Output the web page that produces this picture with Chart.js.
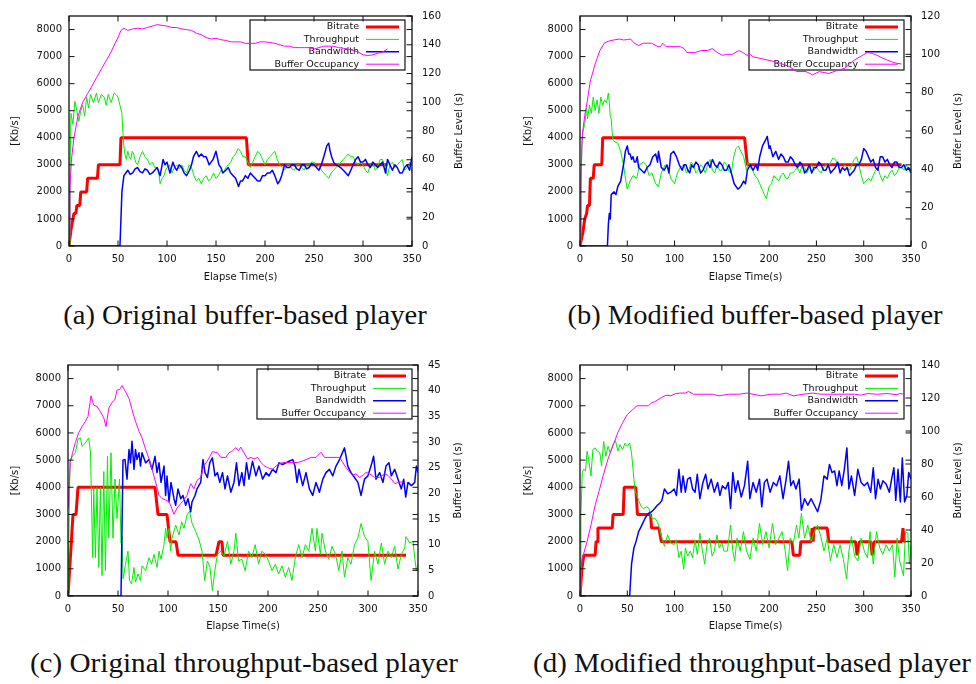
<!DOCTYPE html>
<html>
<head>
    <title>Buffer-based and throughput-based players</title>
    <script src="https://cdn.jsdelivr.net/npm/chart.js"></script>
    <style>
        body {
            margin: 0;
            background-color: #ffffff;
            width: 976px;
            height: 684px;
            position: relative;
            overflow: hidden;
        }
        .panel {
            position: absolute;
            width: 488px;
            height: 290px;
        }
        .panel canvas {
            display: block;
        }
        .caption {
            position: absolute;
            font-family: 'Liberation Serif', serif;
            font-size: 28px;
            line-height: 28px;
            white-space: nowrap;
            transform: translateX(-50%);
            transform-origin: center;
            color: #111;
        }
    </style>
</head>
<body>
    <div class="panel" style="left:0;top:0"><canvas id="chartA" width="488" height="290"></canvas></div>
    <div class="panel" style="left:488px;top:0"><canvas id="chartB" width="488" height="290"></canvas></div>
    <div class="panel" style="left:0;top:349px"><canvas id="chartC" width="488" height="290"></canvas></div>
    <div class="panel" style="left:488px;top:349px"><canvas id="chartD" width="488" height="290"></canvas></div>

    <div class="caption" data-fit="364" style="left:245px;top:301px">(a) Original buffer-based player</div>
    <div class="caption" data-fit="375" style="left:755px;top:301px">(b) Modified buffer-based player</div>
    <div class="caption" data-fit="428" style="left:244px;top:649px">(c) Original throughput-based player</div>
    <div class="caption" data-fit="438" style="left:752px;top:649px">(d) Modified throughput-based player</div>

    <script>
        // series are [time (s), value] pairs
        const seriesLabels = ['Bitrate', 'Throughput', 'Bandwidth', 'Buffer Occupancy'];
        const xTicks = [0, 50, 100, 150, 200, 250, 300, 350];
        const rateTicks = [0, 1000, 2000, 3000, 4000, 5000, 6000, 7000, 8000];
        const aBufferTicks = [0, 20, 40, 60, 80, 100, 120, 140, 160];
        const bBufferTicks = [0, 20, 40, 60, 80, 100, 120];
        const cBufferTicks = [0, 5, 10, 15, 20, 25, 30, 35, 40, 45];
        const dBufferTicks = [0, 20, 40, 60, 80, 100, 120, 140];

        // (a) original buffer-based
        const aBitrate = [[0,0],[2,600],[4,1000],[5,1200],[7,1200],[8,1500],[11,1500],[12,2000],[18,2000],[19,2500],[29,2500],[30,3000],[52,3000],[53,4000],[181,4000],[183,3000],[325,3000]];
        const aThroughput = [[0,0],[1,2600],[2,4900],[4,4500],[6,5350],[8,5000],[10,4600],[12,5000],[14,5200],[16,4800],[18,5500],[20,5100],[22,5600],[25,5300],[28,5650],[30,5300],[33,5600],[36,5500],[38,5200],[40,5600],[43,5300],[46,5650],[48,5600],[50,5500],[52,5200],[54,4900],[55,4200],[56,3700],[57,3400],[58.5,3200],[60,3500],[61.5,3300],[63,3200],[64.5,3500],[66,3400],[68,3100],[70,3000],[72.5,3300],[75,3500],[77.5,3300],[80,3200],[82.5,3000],[85,3100],[87.5,2900],[90,2900],[92,2600],[93,2300],[95,2500],[97,2600],[98.5,2800],[100,2900],[102.5,3000],[105,2700],[107.5,2900],[110,3000],[112.5,2850],[115,3000],[117.5,2800],[120,2700],[122.5,3000],[125,2900],[127.5,2600],[130,2400],[132.5,2500],[135,2300],[137.5,2500],[140,2600],[142.5,2400],[145,2500],[147.5,2700],[150,2500],[152.5,2600],[155,2800],[157.5,2700],[160,2900],[162.5,3000],[165,3100],[167.5,3300],[170,3400],[172.5,3600],[175,3500],[177.5,3300],[180,3300],[182.5,3100],[185,2900],[187.5,3100],[190,3300],[192.5,3500],[195,3400],[197.5,3200],[200,3000],[202.5,3200],[205,3300],[207.5,3400],[210,3500],[212.5,3200],[215,3000],[217.5,2900],[220,2800],[222.5,3000],[225,3000],[227.5,2850],[230,2800],[232.5,3000],[235,3000],[237.5,2900],[240,2800],[242.5,3000],[245,3000],[247.5,3100],[250,3100],[252.5,2900],[255,3000],[257.5,2800],[260,2700],[262.5,2600],[265,2500],[267.5,2700],[270,2800],[272.5,2900],[275,3000],[277.5,3100],[280,3200],[282.5,3300],[285,3400],[287.5,3300],[290,3300],[292.5,3100],[295,3000],[297.5,3100],[300,3000],[302.5,2800],[305,2700],[307.5,3000],[310,3100],[312.5,2800],[315,2900],[317.5,3200],[320,3200],[322.5,2900],[325,2600],[327.5,3000],[330,3100],[332.5,2900],[335,3000],[337.5,3100],[340,3200],[342.5,2800],[345,2900],[347.5,3100],[350,2700]];
        const aBandwidth = [[0,0],[52,0],[53,1000],[54,2000],[56,2600],[58,2700],[60,2800],[62.5,2650],[65,2700],[67.5,2850],[70,2900],[72.5,2750],[75,2700],[77.5,2850],[80,2800],[82.5,2650],[85,2700],[87.5,2800],[90,2900],[93,2600],[96,3200],[98,3000],[100,3100],[103,2700],[106,3100],[108,2900],[110,2800],[112.5,3000],[115,2900],[117.5,2700],[120,2600],[123,2800],[125,3000],[127,3300],[130,3500],[132.5,3300],[135,3400],[137.5,3300],[140,3300],[143,3000],[147,3200],[150,3500],[153,3000],[155,2900],[157,2700],[160,2800],[162.5,2900],[165,2700],[167.5,2600],[170,2500],[173,2200],[175,2400],[177,2400],[180,2600],[182.5,2500],[185,2700],[187.5,2600],[190,2500],[192.5,2400],[195,2400],[197.5,2600],[200,2600],[202.5,2700],[205,2700],[207.5,2800],[210,2600],[213,2300],[215,2400],[217,2600],[220,3000],[222.5,2900],[225,2900],[227.5,3000],[230,3000],[232.5,2850],[235,2800],[237.5,3000],[240,3000],[242.5,2850],[245,2900],[247.5,3050],[250,3000],[252.5,2900],[255,2800],[257.5,3000],[260,3300],[263,3700],[265,3800],[266.5,3500],[268,3300],[270,3100],[272,3000],[275,2950],[277,2900],[280,2800],[282.5,2700],[285,2600],[287.5,2800],[290,3000],[292.5,3200],[295,3300],[297.5,3100],[300,3100],[302.5,3200],[305,3000],[307.5,2900],[310,3100],[312.5,3000],[315,2900],[317.5,3000],[320,3100],[323,2700],[325,3200],[327.5,3000],[330,2800],[332.5,3000],[335,2900],[337.5,2700],[340,2700],[342.5,2900],[345,3000],[347.5,2800],[350,3300]];
        const aBuffer = [[0,5],[1,40],[2.5,60],[5,75],[9,90],[14,100],[19,106],[24,112],[28,117],[33,123],[38,129],[43,135],[47,141],[50,145],[53,150],[56,151.5],[60,150],[65,151],[70,151.5],[75,151],[80,152],[85,153],[90,154],[95,153.5],[100,153],[105,152],[110,152],[115,151],[120,150.5],[125,150],[130,148],[135,147],[140,145],[145,144],[150,144.5],[155,143.5],[160,143],[165,142],[170,142],[175,142],[180,141],[185,141],[190,141],[195,142],[200,142],[205,141.5],[210,141],[215,140],[220,139],[225,139],[230,138],[235,138],[240,138],[245,138],[250,137],[255,138],[260,139],[265,139],[270,139],[275,138],[280,137.5],[285,137],[290,136],[295,135],[300,133],[305,132.5],[310,133],[315,134],[320,135],[325,137]];

        // (b) modified buffer-based
        const bBitrate = [[0,0],[3,500],[5,1000],[7,1200],[8,1500],[10,1500],[11,2500],[14,2500],[15,3000],[23,3000],[24,4000],[174,4000],[177,3000],[340,3000]];
        const bThroughput = [[0,0],[1,2000],[2,3700],[3,4200],[5,4500],[7,5100],[8,4700],[10,5200],[12,4900],[14,5500],[16,5000],[18,5400],[20,4900],[22,5500],[24,5200],[26,5400],[28,5300],[30,5650],[31,5300],[32,4800],[33,4700],[34,4200],[35,3900],[37,3850],[40,3800],[43,3500],[46,3000],[48,2500],[50,2100],[53,2400],[56,2600],[60,2500],[63,3000],[67,3100],[70,3000],[73,2600],[76,2700],[80,2300],[83,2200],[86,2700],[90,3000],[93,2900],[96,2500],[100,2300],[103,2700],[106,2900],[110,3000],[112.5,2700],[115,2800],[117.5,3100],[120,3000],[122.5,2700],[125,2800],[127.5,3000],[130,2900],[132.5,2700],[135,3000],[137.5,3200],[140,2800],[142.5,2700],[145,3000],[147.5,2800],[150,2800],[152.5,3100],[155,3000],[157.5,2750],[160,2700],[162.5,3300],[165,3600],[167.5,3700],[170,3500],[173,3300],[176,2800],[178,3100],[180,2900],[182.5,2800],[185,2600],[187.5,2500],[190,2300],[192.5,2100],[195,1900],[197,1750],[200,2200],[202.5,2300],[205,2600],[207.5,2500],[210,2400],[212.5,2600],[215,2700],[217.5,2500],[220,2500],[222.5,2700],[225,2700],[227.5,2800],[230,2900],[232.5,2700],[235,3000],[237.5,2900],[240,2700],[242.5,2900],[245,3000],[247.5,2800],[250,2900],[252.5,2800],[255,2700],[257.5,2900],[260,3000],[262.5,2900],[265,3100],[267.5,3250],[270,3200],[272.5,3000],[275,2800],[277.5,2900],[280,3000],[282.5,2900],[285,2800],[287.5,3000],[290,3200],[292.5,3300],[295,3000],[297.5,2600],[300,2300],[302.5,2400],[305,2500],[307.5,2400],[310,2600],[312.5,2800],[315,2900],[317.5,2600],[320,2400],[322.5,2600],[325,2500],[327.5,2700],[330,2800],[332.5,2600],[335,2700],[337.5,2900],[340,2900],[342.5,2800],[345,3000],[347.5,2800],[350,2900]];
        const bBandwidth = [[0,0],[29,0],[30,800],[31,1200],[32,1000],[33,1900],[36,2000],[38,1900],[40,2200],[43,2400],[46,3000],[48,3500],[50,3700],[51.5,3400],[53,3400],[54.5,3200],[56,3300],[57.5,3100],[59,3100],[60.5,3300],[62,2900],[65,2800],[68,2700],[71,2900],[74,3000],[77,3300],[80,3400],[82,3100],[83,3500],[86,2900],[89,2800],[92,3000],[94,2700],[96,3400],[99,3500],[102,3300],[105,3000],[108,2800],[110,3000],[112,3000],[114,2800],[116,2700],[118,3000],[120,2900],[122.5,3100],[125,3000],[127.5,2700],[130,2800],[132.5,3000],[135,3100],[137.5,2900],[140,3200],[142.5,3000],[145,2900],[147.5,3100],[150,3000],[152.5,2800],[155,2800],[157.5,3000],[160,2700],[163,2300],[165,2200],[167,2100],[170,2200],[173,2400],[175,2300],[177,2800],[180,3000],[183,2800],[186,3000],[188,2800],[190,3300],[193,3700],[196,3900],[198,4050],[200,3600],[201,3700],[204,3300],[207,3500],[210,3200],[212.5,3400],[215,3300],[217.5,3100],[220,3100],[222.5,3300],[225,3200],[227.5,3000],[230,2900],[232.5,3100],[235,3000],[237.5,2700],[240,2800],[242.5,3000],[245,2700],[247.5,2900],[250,2900],[252.5,3100],[255,3000],[257.5,2800],[260,2800],[262.5,3000],[265,2700],[267.5,2800],[270,2900],[272.5,3100],[275,2700],[277.5,2900],[280,2800],[282.5,2900],[285,2600],[287.5,2700],[290,2800],[292.5,3000],[295,3000],[297.5,3200],[300,3600],[302.5,3500],[305,3300],[307.5,3100],[310,3200],[312.5,2900],[315,2800],[317.5,3300],[320,3300],[322.5,3100],[325,3200],[327.5,3000],[330,2900],[332.5,3100],[335,3100],[337.5,2900],[340,2900],[342.5,3000],[345,2800],[347.5,2900],[350,2700]];
        const bBuffer = [[0,0],[1,35],[2.4,58],[5,68],[7.5,75],[10.9,86],[16,95],[21,102],[26,106],[31,107],[36,107.5],[41.6,108],[46,107.5],[50,107.7],[53.5,108],[57,106],[62,104.6],[67,105.8],[75.7,105.8],[82.5,104],[85,104],[87.6,105.8],[91,104],[101,104],[106,104],[110,103],[113,101],[122,101],[128.5,102],[135,102],[140,103],[145,101],[150.5,99.5],[155,100],[161,100],[168,102],[172,101],[176.5,99.5],[180,100],[183,98.7],[191.5,97.8],[202,96.6],[212,95.3],[222,93.5],[229,91],[239,91],[246,89.3],[253,91],[258,90.5],[263,90],[273,91.8],[280,92.7],[285,95],[290,97],[297,99],[304,101],[309,100.5],[314,99.5],[320,98],[325,97],[330,96],[335,95.3],[340,95]];

        // (c) original throughput-based
        const cBitrate = [[0,0],[5,3000],[8,3000],[10,4000],[87,4000],[90,3000],[99,3000],[102,2000],[108,2000],[110,1500],[148,1500],[151,2000],[154,2000],[155,1500],[338,1500]];
        const cThroughput = [[0,0],[2,5000],[4.7,5150],[7.4,5270],[10,5780],[12.5,5820],[14,5510],[17.4,5630],[20.7,5820],[22.5,5270],[24.7,1410],[25.7,4000],[27.4,1410],[29,4000],[30.8,1050],[32.4,4000],[34,750],[35.8,4580],[37.4,930],[39.5,5150],[40.8,2130],[43,5270],[45,2130],[47,4300],[49,2850],[51.5,4300],[53,1950],[54,2190],[55,630],[57.5,1170],[60,1650],[61.5,570],[63.5,450],[66,1050],[67.5,510],[70,810],[72.5,570],[74,1110],[77.6,930],[81,1410],[83.6,1170],[86,1530],[89,1050],[91,1650],[93,1350],[96,1890],[97.6,2490],[99,2130],[101,2490],[102.6,1650],[104,2130],[107.7,2610],[111,2250],[113.7,2730],[116,2490],[119,2980],[121.7,3120],[124,2680],[127.7,2370],[131,2070],[134,1650],[136.7,570],[139.4,1290],[142,1050],[144.4,200],[146.8,930],[149.4,1530],[152.8,1650],[156,1470],[159.5,2010],[162.8,1170],[166,1650],[167.8,2310],[170.5,1290],[173.9,1350],[177.2,930],[180.5,1650],[183.9,1410],[187.2,1890],[190.6,1170],[193.9,1650],[197.3,1530],[200.6,1290],[204,930],[207.3,1170],[210.6,810],[214,1110],[217.3,690],[220.7,1050],[224,570],[227.3,1410],[230.7,1890],[234,1410],[237.4,1890],[240.7,1650],[244,2490],[247.4,1650],[248.9,2490],[252.4,1530],[254,2310],[257.4,1650],[260.8,1350],[264,1830],[267.5,1530],[270.8,930],[274,1650],[276.5,690],[279.8,1410],[283,1170],[286.5,1890],[289.9,2130],[293,2670],[296.5,2190],[299.9,2010],[303,570],[306.6,1650],[310,1170],[313.3,1950],[316.6,1170],[320,1650],[323.3,1410],[326.7,1830],[330,990],[333.3,1530],[336.7,1770],[338,2190],[341.7,1950],[345,2010],[346.7,1410],[348.4,930],[350,1170]];
        const cBandwidth = [[0,0],[53,0],[55,5000],[57,5020],[59,4300],[61,5390],[62.5,4900],[64,5690],[66,4660],[67.5,5390],[69,5020],[71,5270],[72.5,4780],[74,5270],[77.6,4900],[81,5020],[84,4660],[87,5140],[89,4540],[91,4900],[93,4180],[96,4780],[97.6,3700],[99,4420],[101,3460],[103,4180],[106,3580],[107.7,3340],[110,3940],[112.7,3580],[115,3700],[117.7,3340],[120,3580],[122.7,3100],[124,3460],[127,3700],[129,3940],[132.7,4180],[135,5020],[137,4540],[139.4,4360],[141.7,4900],[144.4,5080],[147,4420],[149.4,4540],[151.8,4180],[154.5,4540],[157,3940],[159.5,4420],[162.8,3820],[166,4180],[168.5,4900],[171,4060],[173.9,4540],[176,4060],[178.5,4900],[181,4300],[184.5,4960],[187.9,4420],[191,4780],[194.6,4300],[198,4540],[201,4420],[204.6,4660],[208,4540],[211,4900],[214.6,4840],[218,4900],[221,4960],[224.7,5020],[227,4780],[229,4180],[231,4660],[234.7,4060],[238,4540],[241.4,3940],[244.7,3700],[248,4180],[251.4,3820],[254.8,4300],[258,4540],[261.4,4660],[264.8,4420],[268,4780],[271.5,5020],[276.5,5450],[279.8,4780],[283,4540],[286.5,4360],[289.9,4180],[293,3700],[296.5,4300],[299.9,4420],[303,4780],[305.6,5140],[308,4300],[311.6,4540],[315,4180],[318,4780],[321,4900],[323.3,4420],[326.7,4660],[330,4300],[333.3,3940],[335.7,4300],[337.7,3640],[340,4180],[343.4,4060],[346.7,4180],[348.4,4780],[350,4540]];
        const cBuffer = [[0,17],[2.3,26],[4.7,28],[7.4,29.9],[10.7,31.8],[14,33],[17.4,34],[20,35],[23,39],[25.7,37.2],[29,36.9],[32.4,35.9],[35.8,34.7],[38,33],[40.8,36.6],[44,37.7],[46.8,38.2],[49,40.1],[51.5,40.2],[54,41],[57.5,39.8],[61,38.5],[64,36.3],[67.5,34],[71,32.1],[74,30.8],[77.6,28.6],[81,26.7],[84,24.7],[87.6,22.2],[91,19.6],[94,19],[97.6,18.7],[101,18.4],[103.7,17.1],[106,15.9],[109,17.1],[112.7,18],[116,18.7],[119,19.6],[122.7,21.9],[126,20.9],[129,22.5],[132.7,23.1],[136,25.4],[139.4,26.3],[144.4,28.1],[149.4,27.9],[152.8,27],[157.8,27],[161,27.9],[164.5,28.3],[167.8,28.9],[170.5,28.3],[172.8,29],[176,27.9],[179.5,26.7],[183,27],[186,26.7],[189.6,27],[193,26],[196,25.4],[199.6,25],[204.6,24.7],[209.6,25.6],[214.6,26],[224.7,26],[229.7,26],[234.7,26.3],[239.7,26.7],[243,27],[248,27],[253,28],[256.4,27],[271.5,27],[274.8,26],[278,25],[281.5,24.1],[284.8,23.5],[288,23.8],[291.5,23.1],[294.9,23.5],[298.2,24.1],[301.6,23.8],[306.6,23.1],[311.6,23.1],[316.6,23.8],[320,23.5],[323.3,22.8],[326.7,21.9],[331.7,22.2],[335,22.2]];

        // (d) modified throughput-based
        const dBitrate = [[0,0],[2,1000],[4,1500],[16,1500],[17,2000],[18.4,2000],[19,2500],[34,2500],[35,3000],[45.7,3000],[46.7,4000],[59,4000],[60.7,3000],[74.6,3000],[75.7,2500],[83.5,2500],[86,2000],[224,2000],[225.6,1500],[232.4,1500],[233.5,2000],[244.4,2000],[245.4,2500],[246.5,2000],[247.5,2500],[261.4,2500],[263,2000],[291.4,2000],[293,1500],[295.5,2000],[307.4,2000],[309,1500],[311,2000],[340,2000],[341.5,2500],[343,2000],[344,2000]];
        const dThroughput = [[0,0],[1,3000],[2.4,4540],[4,4660],[5.8,4600],[7.5,5330],[9.2,5020],[11.6,4420],[13.6,5390],[16,5450],[18.4,5330],[21,5270],[22.8,4780],[25,5690],[27.3,5140],[29.6,5510],[32,5270],[34.8,5570],[37.5,5720],[40,5330],[42.3,5570],[45,5390],[47.7,5630],[50,5510],[52.5,5630],[54.5,5270],[57,4300],[58.6,3820],[60.3,3700],[62,3520],[64.8,3280],[67,3220],[70.5,3280],[73,3220],[75.7,2860],[79,2860],[81.8,2740],[84,2490],[86.6,2130],[89.3,1830],[92.7,2250],[96,1950],[99.5,1890],[102,2070],[104.6,1410],[107,1650],[109.7,990],[111.4,1770],[113.8,1470],[116.6,1650],[119,1410],[121.7,2070],[124,1530],[126.8,2310],[129.5,1650],[131.9,1170],[134.3,1890],[137,2130],[139.7,1470],[142,1650],[144.8,2250],[147.2,1770],[150,1950],[152.3,1650],[155.8,1650],[159.2,2610],[161.6,1650],[163.6,1290],[166,2130],[169.4,1650],[172.8,2370],[176.2,1650],[179.6,1350],[183,2130],[186.4,1650],[189.8,2670],[193.2,1890],[196.6,2370],[200,1770],[203.5,2670],[206.9,1890],[210.3,2130],[213.7,2370],[217,1650],[219.5,930],[222.2,2130],[225.6,1950],[229,2610],[231.4,2130],[234.1,3040],[237.5,2130],[240.9,2610],[244.4,2010],[247.8,2370],[251.2,2610],[254.6,2190],[258,1650],[261.4,2130],[264.8,1290],[268.3,1890],[271.7,1410],[275,1890],[278.5,1350],[281.9,630],[284.3,1650],[287,2190],[290.4,1470],[293.8,1290],[297.2,2130],[300.6,1650],[304,1410],[306.7,2370],[310.1,1170],[313.5,2370],[316.9,1770],[320.3,1530],[323.7,1890],[327.1,1650],[330.5,1890],[332.9,690],[335.3,2130],[338,1290],[342.1,750],[344.2,2370],[346.6,2310],[348.3,1170],[350,1890]];
        const dBandwidth = [[0,0],[52.5,0],[54.5,1170],[57,1770],[59.3,2010],[62,2370],[65.4,2610],[68.8,2860],[72.3,3040],[75.7,3100],[79,3220],[81.8,3340],[84,3400],[86.6,3520],[89.3,3940],[92.7,3760],[96,3820],[99.5,3940],[102,3700],[104.6,4660],[107,3820],[109,4420],[111.4,3820],[113.8,4300],[116.6,4360],[119,3940],[121.7,3820],[124,4480],[126.8,3580],[130,4180],[132.9,4480],[135.3,3940],[138.7,4300],[142,3820],[145.5,4180],[147.9,3700],[150.6,4060],[154,3940],[156.8,4180],[159.2,3220],[161.6,4540],[164.3,3820],[167,4240],[170.5,3640],[173.9,4060],[177.3,4960],[179.6,3580],[183,4180],[186.4,3820],[189.8,4300],[192.2,3280],[195,4180],[197.7,4300],[201,3820],[204.5,4180],[207.9,4060],[211.3,4420],[214.7,3580],[218,4300],[220.5,4960],[222.9,4060],[225.6,4240],[228.3,3940],[231.7,4300],[234.1,3160],[237.5,3580],[240.9,3340],[244.4,3580],[247.8,3340],[251.2,3100],[254.6,3520],[258,4420],[261.4,4300],[263.8,4840],[266.5,4540],[269.2,4600],[271.7,4060],[274,4600],[276.8,4060],[279.5,4660],[282.2,5450],[284.3,3940],[287,4420],[290.4,3700],[293.8,4660],[297.2,4180],[300.6,4060],[304,4180],[307.4,3820],[310.1,4720],[312.5,3580],[315.2,4300],[317.6,3940],[320.3,4240],[323.7,4120],[327.1,3820],[329.5,4300],[331.9,4720],[333.9,3520],[336.3,4660],[338.7,3460],[340.8,5080],[343.2,3460],[345.6,3700],[347.6,4540],[350,4300]];
        const dBuffer = [[0,0],[1,15],[2.4,23],[4,26],[7.5,33],[11.6,43],[16,55],[20.4,64],[24.5,73],[29.6,83],[34.8,91],[40,99],[45,105],[50,110],[55.2,112.7],[60.3,115.3],[65.4,115.3],[72.3,115.3],[75.7,117],[79,117.7],[82.5,119],[87.6,120.7],[91,121.7],[96,121.3],[101,122.7],[106,123],[111.4,123],[114.8,124],[120,122.3],[130,122.3],[140,122.3],[147,121.3],[157,122.3],[168,122.3],[176.5,123],[183,122.3],[191.5,121.3],[202,122.3],[212,122.3],[218,123],[225.6,121.3],[236,122.3],[246,123],[254.6,122.3],[266.5,122.3],[280,122.3],[290.4,122.3],[297,121.7],[304,122.7],[314.5,122.3],[325,122.7],[335,122],[338,122.7],[343,122.3]];

        const rateMax = 8500;

        Chart.defaults.font.family = "'DejaVu Sans', sans-serif";
        Chart.defaults.font.size = 10;
        Chart.defaults.color = '#111';

        const toPoints = pairs => pairs.map(p => ({ x: p[0], y: p[1] }));
        const asTicks = values => values.map(v => ({ value: v }));
        const plainLabel = v => String(v);

        // gnuplot look: key box under the data, border with inward tics, y labels reading upward
        const gnuplotFrame = {
            id: 'gnuplotFrame',
            beforeDatasetsDraw(chart, args, opts) {
                const ctx = chart.ctx;
                const area = chart.chartArea;
                const right = area.right - opts.keyGap;
                const top = area.top + 4;
                ctx.save();
                ctx.strokeStyle = '#111';
                ctx.lineWidth = 1.2;
                ctx.strokeRect(right - 155, top, 155, 50);
                ctx.font = "9.5px 'DejaVu Sans'";
                ctx.textAlign = 'right';
                ctx.textBaseline = 'middle';
                ctx.fillStyle = '#111';
                chart.data.datasets.forEach((ds, i) => {
                    const y = top + 7 + i * 12.4;
                    ctx.fillText(ds.label, right - 46, y);
                    ctx.strokeStyle = ds.borderColor;
                    ctx.lineWidth = ds.borderWidth;
                    ctx.beginPath();
                    ctx.moveTo(right - 39, y);
                    ctx.lineTo(right - 6, y);
                    ctx.stroke();
                });
                ctx.restore();
            },
            afterDatasetsDraw(chart, args, opts) {
                const ctx = chart.ctx;
                const area = chart.chartArea;
                const { x, y, y2 } = chart.scales;
                const tl = 5.5;
                ctx.save();
                ctx.strokeStyle = '#111';
                ctx.lineWidth = 1.3;
                ctx.strokeRect(area.left, area.top, area.right - area.left, area.bottom - area.top);
                ctx.lineWidth = 1;
                ctx.beginPath();
                x.ticks.forEach(t => {
                    const px = x.getPixelForValue(t.value);
                    ctx.moveTo(px, area.bottom); ctx.lineTo(px, area.bottom - tl);
                    ctx.moveTo(px, area.top); ctx.lineTo(px, area.top + tl);
                });
                y.ticks.forEach(t => {
                    const py = y.getPixelForValue(t.value);
                    ctx.moveTo(area.left, py); ctx.lineTo(area.left + tl, py);
                    ctx.moveTo(area.right, py); ctx.lineTo(area.right - tl, py);
                });
                y2.ticks.forEach(t => {
                    const py = y2.getPixelForValue(t.value);
                    ctx.moveTo(area.right, py); ctx.lineTo(area.right - tl, py);
                });
                ctx.stroke();

                const midY = (area.top + area.bottom) / 2;
                ctx.fillStyle = '#111';
                ctx.font = "10px 'DejaVu Sans'";
                ctx.textAlign = 'center';
                ctx.textBaseline = 'middle';
                ctx.translate(area.left - opts.leftTitleGap, midY);
                ctx.rotate(-Math.PI / 2);
                ctx.fillText('[Kb/s]', 0, 0);
                ctx.setTransform(1, 0, 0, 1, 0, 0);
                ctx.translate(area.right + opts.rightTitleGap, midY);
                ctx.rotate(-Math.PI / 2);
                ctx.fillText('Buffer Level (s)', 0, 0);
                ctx.restore();
            }
        };

        function drawPanel(id, series, bufferTicks, layout) {
            const colors = ['#ff0000', '#00ee00', '#0000ff', '#ff00ff'];
            const widths = [3, 1, 1.5, 1];
            const datasets = series.map((s, i) => ({
                label: seriesLabels[i],
                data: toPoints(s),
                borderColor: colors[i],
                borderWidth: widths[i],
                borderJoinStyle: i === 0 ? 'bevel' : 'round',
                yAxisID: i === 3 ? 'y2' : 'y',
                order: 4 - i,
                pointRadius: 0,
                tension: 0,
                fill: false
            }));
            new Chart(document.getElementById(id), {
                type: 'line',
                data: { datasets },
                options: {
                    responsive: false,
                    animation: false,
                    events: [],
                    layout: { padding: { top: layout.top } },
                    plugins: {
                        legend: { display: false },
                        tooltip: { enabled: false },
                        gnuplotFrame: layout
                    },
                    scales: {
                        x: {
                            type: 'linear', min: 0, max: 350,
                            grid: { display: false, drawTicks: false },
                            border: { display: false },
                            afterBuildTicks: s => { s.ticks = asTicks(xTicks); },
                            ticks: { autoSkip: false, maxRotation: 0, padding: 7, callback: plainLabel },
                            title: { display: true, text: 'Elapse Time(s)', padding: { top: 0, bottom: 7 } },
                            afterFit: s => { s.height = layout.bottomH; }
                        },
                        y: {
                            position: 'left', min: 0, max: rateMax,
                            grid: { display: false, drawTicks: false },
                            border: { display: false },
                            afterBuildTicks: s => { s.ticks = asTicks(rateTicks); },
                            ticks: { autoSkip: false, padding: 7, callback: plainLabel },
                            afterFit: s => { s.width = layout.leftW; }
                        },
                        y2: {
                            position: 'right', min: 0, max: bufferTicks[bufferTicks.length - 1],
                            grid: { display: false, drawTicks: false },
                            border: { display: false },
                            afterBuildTicks: s => { s.ticks = asTicks(bufferTicks); },
                            ticks: { autoSkip: false, padding: 10, callback: plainLabel },
                            afterFit: s => { s.width = layout.rightW; }
                        }
                    }
                },
                plugins: [gnuplotFrame]
            });
        }

        drawPanel('chartA', [aBitrate, aThroughput, aBandwidth, aBuffer], aBufferTicks,
            { top: 12, leftW: 69, rightW: 76, bottomH: 44, keyGap: 7, leftTitleGap: 54, rightTitleGap: 47 });
        drawPanel('chartB', [bBitrate, bThroughput, bBandwidth, bBuffer], bBufferTicks,
            { top: 12, leftW: 92, rightW: 65, bottomH: 44, keyGap: 7, leftTitleGap: 52, rightTitleGap: 47 });
        drawPanel('chartC', [cBitrate, cThroughput, cBandwidth, cBuffer], cBufferTicks,
            { top: 12, leftW: 68, rightW: 70, bottomH: 43, keyGap: 6, leftTitleGap: 53, rightTitleGap: 40 });
        drawPanel('chartD', [dBitrate, dThroughput, dBandwidth, dBuffer], dBufferTicks,
            { top: 12, leftW: 92, rightW: 65, bottomH: 43, keyGap: 7, leftTitleGap: 52, rightTitleGap: 47 });

        // stretch each caption to the width it has in the figure
        document.querySelectorAll('.caption').forEach(el => {
            const k = Number(el.dataset.fit) / el.offsetWidth;
            el.style.transform = `translateX(-50%) scaleX(${k.toFixed(3)})`;
        });
    </script>
</body>
</html>
